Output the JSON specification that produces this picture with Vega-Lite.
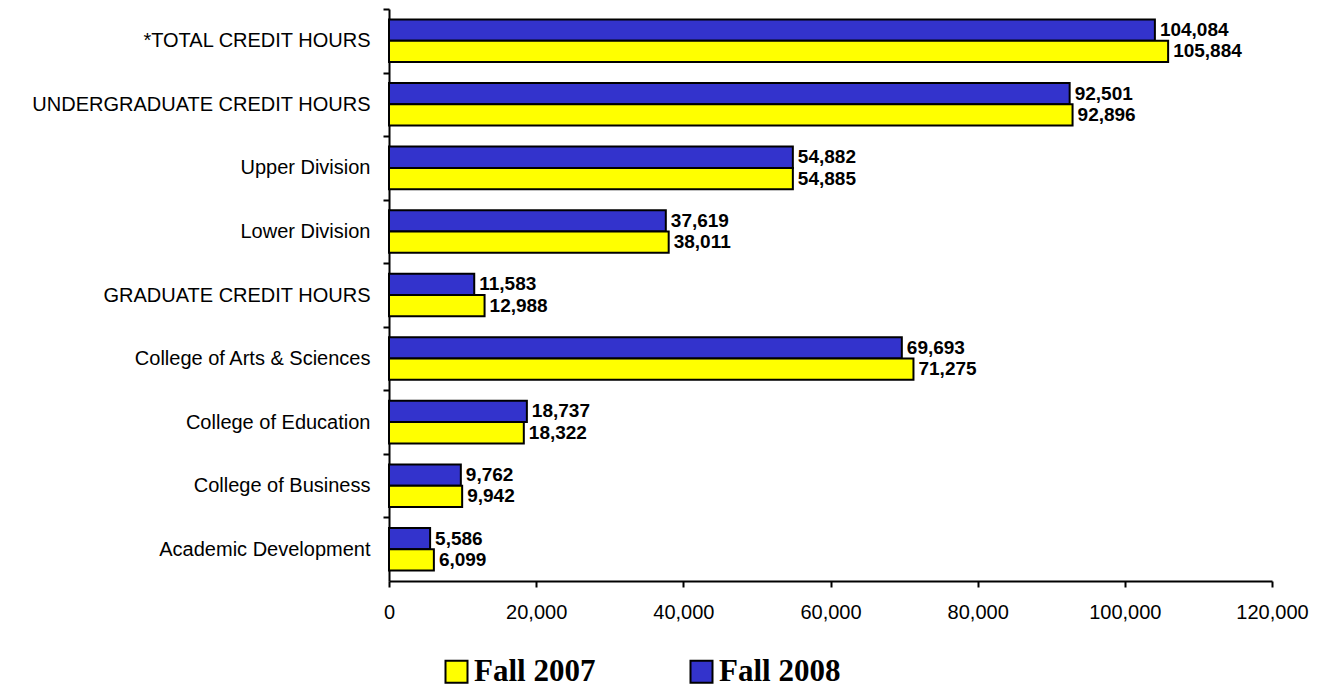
{
  "$schema": "https://vega.github.io/schema/vega-lite/v6.json",
  "width": 883,
  "height": 572,
  "autosize": {"type": "none"},
  "padding": {"left": 389, "top": 9, "right": 49, "bottom": 107},
  "background": "white",
  "config": {"view": {"stroke": null}, "font": "Liberation Sans"},
  "data": {
    "values": [
      {"category": "*TOTAL CREDIT HOURS", "year": "Fall 2008", "value": 104084},
      {"category": "*TOTAL CREDIT HOURS", "year": "Fall 2007", "value": 105884},
      {"category": "UNDERGRADUATE CREDIT HOURS", "year": "Fall 2008", "value": 92501},
      {"category": "UNDERGRADUATE CREDIT HOURS", "year": "Fall 2007", "value": 92896},
      {"category": "Upper Division", "year": "Fall 2008", "value": 54882},
      {"category": "Upper Division", "year": "Fall 2007", "value": 54885},
      {"category": "Lower Division", "year": "Fall 2008", "value": 37619},
      {"category": "Lower Division", "year": "Fall 2007", "value": 38011},
      {"category": "GRADUATE CREDIT HOURS", "year": "Fall 2008", "value": 11583},
      {"category": "GRADUATE CREDIT HOURS", "year": "Fall 2007", "value": 12988},
      {"category": "College of Arts & Sciences", "year": "Fall 2008", "value": 69693},
      {"category": "College of Arts & Sciences", "year": "Fall 2007", "value": 71275},
      {"category": "College of Education", "year": "Fall 2008", "value": 18737},
      {"category": "College of Education", "year": "Fall 2007", "value": 18322},
      {"category": "College of Business", "year": "Fall 2008", "value": 9762},
      {"category": "College of Business", "year": "Fall 2007", "value": 9942},
      {"category": "Academic Development", "year": "Fall 2008", "value": 5586},
      {"category": "Academic Development", "year": "Fall 2007", "value": 6099}
    ]
  },
  "encoding": {
    "y": {
      "field": "category",
      "type": "nominal",
      "sort": ["*TOTAL CREDIT HOURS", "UNDERGRADUATE CREDIT HOURS", "Upper Division", "Lower Division", "GRADUATE CREDIT HOURS", "College of Arts & Sciences", "College of Education", "College of Business", "Academic Development"],
      "scale": {"paddingInner": 0.33, "paddingOuter": 0.165},
      "axis": {
        "title": null,
        "domainColor": "black",
        "domainWidth": 2,
        "tickColor": "black",
        "tickWidth": 2,
        "tickSize": 6,
        "tickOffset": -31.8,
        "labelOffset": 31.8,
        "labelFont": "Liberation Sans",
        "labelFontSize": 20,
        "labelColor": "black",
        "labelPadding": 13,
        "labelLimit": 600
      }
    },
    "yOffset": {"field": "year", "type": "nominal", "sort": ["Fall 2008", "Fall 2007"]},
    "x": {
      "field": "value",
      "type": "quantitative",
      "scale": {"domain": [0, 120000], "nice": false},
      "axis": {
        "title": null,
        "values": [0, 20000, 40000, 60000, 80000, 100000, 120000],
        "format": ",.0f",
        "grid": false,
        "domainColor": "black",
        "domainWidth": 2,
        "tickColor": "black",
        "tickWidth": 2,
        "tickSize": 6,
        "labelFont": "Liberation Sans",
        "labelFontSize": 20,
        "labelColor": "black",
        "labelPadding": 15,
        "labelFlush": false
      }
    }
  },
  "layer": [
    {
      "mark": {"type": "bar", "stroke": "black", "strokeWidth": 2, "opacity": 1},
      "encoding": {
        "color": {
          "field": "year",
          "type": "nominal",
          "scale": {"domain": ["Fall 2007", "Fall 2008"], "range": ["#FFFF00", "#3333CC"]},
          "legend": {
            "orient": "none",
            "legendX": 52,
            "legendY": 647,
            "direction": "horizontal",
            "title": null,
            "padding": 0,
            "symbolType": "square",
            "symbolSize": 484,
            "symbolStrokeColor": "black",
            "symbolStrokeWidth": 2,
            "symbolOpacity": 1,
            "labelFont": "Liberation Serif",
            "labelFontWeight": "bold",
            "labelFontSize": 31,
            "labelColor": "black",
            "labelOffset": 2,
            "columnPadding": 90,
            "labelLimit": 400
          }
        }
      }
    },
    {
      "mark": {"type": "text", "align": "left", "baseline": "middle", "dx": 5, "font": "Liberation Sans", "fontWeight": "bold", "fontSize": 19, "color": "black"},
      "encoding": {"text": {"field": "value", "type": "quantitative", "format": ","}}
    }
  ]
}
